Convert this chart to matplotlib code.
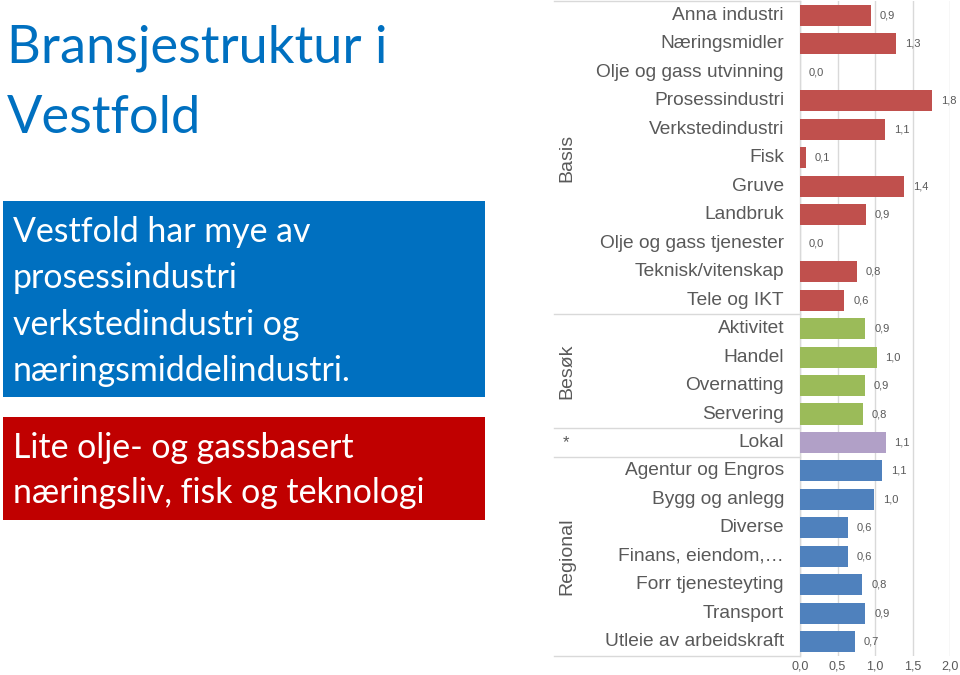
import matplotlib
matplotlib.use("Agg")
import matplotlib.pyplot as plt
from matplotlib.patches import Rectangle
from matplotlib.lines import Line2D
from matplotlib.transforms import blended_transform_factory

# ---------------- data ----------------
categories = ["Anna industri", "Næringsmidler", "Olje og gass utvinning", "Prosessindustri",
              "Verkstedindustri", "Fisk", "Gruve", "Landbruk", "Olje og gass tjenester",
              "Teknisk/vitenskap", "Tele og IKT",
              "Aktivitet", "Handel", "Overnatting", "Servering",
              "Lokal",
              "Agentur og Engros", "Bygg og anlegg", "Diverse", "Finans, eiendom,…",
              "Forr tjenesteyting", "Transport", "Utleie av arbeidskraft"]
values = [0.94, 1.28, 0.0, 1.76, 1.13, 0.08, 1.39, 0.88, 0.0, 0.76, 0.59,
          0.87, 1.02, 0.86, 0.84,
          1.14,
          1.09, 0.99, 0.64, 0.64, 0.83, 0.87, 0.73]
groups = ["Basis"] * 11 + ["Besøk"] * 4 + ["*"] + ["Regional"] * 7
group_names = ["Basis", "Besøk", "*", "Regional"]
group_colors = {"Basis": "#C0504D", "Besøk": "#9BBB59", "*": "#B1A0C7", "Regional": "#4F81BD"}
xticks = [0.0, 0.5, 1.0, 1.5, 2.0]
xtick_labels = ["0,0", "0,5", "1,0", "1,5", "2,0"]

title_lines = ["Bransjestruktur i", "Vestfold"]
blue_lines = ["Vestfold har mye av", "prosessindustri", "verkstedindustri og",
              "næringsmiddelindustri."]
red_lines = ["Lite olje- og gassbasert", "næringsliv, fisk og teknologi"]

# ---------------- figure ----------------
W, H = 960, 675
fig = plt.figure(figsize=(W / 100, H / 100), dpi=100)
fig.patch.set_facecolor("white")

def fy(py):
    return 1 - py / H

def fx(px):
    return px / W

GRAY = "#595959"
LIGHT = "#D9D9D9"
CFONT = "Liberation Sans"

# chart axes
ax_left, ax_right = 800, 950
ax_top, ax_bot = 1.25, 656
ax = fig.add_axes([fx(ax_left), fy(ax_bot), (ax_right - ax_left) / W, (ax_bot - ax_top) / H])
n = len(categories)
ypos = list(range(n))
colors = [group_colors[g] for g in groups]
ax.barh(ypos, values, height=0.74, color=colors, zorder=3)
ax.set_xlim(0, 2.0)
ax.set_ylim(n - 0.5, -0.5)
ax.set_yticks([])
ax.set_xticks(xticks)
ax.set_xticklabels(xtick_labels, fontsize=9, color=GRAY, family=CFONT)
ax.tick_params(axis="x", length=0, pad=3)
for s in ["top", "right", "bottom"]:
    ax.spines[s].set_visible(False)
ax.spines["left"].set_color(LIGHT)
ax.spines["left"].set_linewidth(1)
ax.grid(axis="x", color=LIGHT, linewidth=1, zorder=0)
ax.set_facecolor("none")

for y, v in zip(ypos, values):
    lbl = f"{v:.1f}".replace(".", ",")
    ax.annotate(lbl, (v, y), xytext=(6.5, 0), textcoords="offset points",
                va="center", ha="left", fontsize=8, color=GRAY, family=CFONT)

tr = blended_transform_factory(fig.transFigure, ax.transData)
for y, c in zip(ypos, categories):
    ax.text(fx(784), y, c, transform=tr, ha="right", va="center",
            fontsize=13.8, color=GRAY, family=CFONT)

# group separators and group labels
bounds = []
start = 0
for g in group_names:
    cnt = groups.count(g)
    bounds.append((g, start, start + cnt))
    start += cnt

sep_ys = [-0.5] + [b[2] - 0.5 for b in bounds]
for sy in sep_ys:
    ax.add_line(Line2D([fx(554), fx(800)], [sy, sy], transform=tr, color=LIGHT,
                       linewidth=1, clip_on=False))

for g, s0, s1 in bounds:
    mid = (s0 + s1 - 1) / 2
    if g == "*":
        ax.text(fx(566), mid, g, transform=tr, ha="center", va="center",
                fontsize=12, color=GRAY, family=CFONT)
    else:
        ax.text(fx(567), mid, g, transform=tr, ha="center", va="center", rotation=90,
                fontsize=14, color=GRAY, family=CFONT)

# ---------------- left panel ----------------
LFONT = "Lato"
renderer = fig.canvas.get_renderer()

def fit_size(text, target_px, family, start=20):
    t = fig.text(0, 0, text, fontsize=start, family=family)
    w = t.get_window_extent(renderer=renderer).width
    t.remove()
    return start * target_px / w

title_size = fit_size(title_lines[0], 380, LFONT, 40)
for line, base in zip(title_lines, [62, 133]):
    fig.text(fx(7), fy(base), line, fontsize=title_size, color="#0070C0",
             family=LFONT, va="baseline", ha="left")

# blue box
fig.patches.append(Rectangle((fx(3), fy(397)), fx(482), (397 - 201) / H,
                             transform=fig.transFigure, facecolor="#0070C0",
                             edgecolor="none", zorder=0))
box_size = fit_size(blue_lines[3], 340, LFONT, 20)
for line, base in zip(blue_lines, [242, 288, 335, 381]):
    fig.text(fx(13), fy(base), line, fontsize=box_size, color="white",
             family=LFONT, va="baseline", ha="left")

# red box
fig.patches.append(Rectangle((fx(3), fy(520)), fx(482), (520 - 417) / H,
                             transform=fig.transFigure, facecolor="#C00000",
                             edgecolor="none", zorder=0))
for line, base in zip(red_lines, [458, 503]):
    fig.text(fx(13), fy(base), line, fontsize=box_size, color="white",
             family=LFONT, va="baseline", ha="left")

fig.savefig("out.png", dpi=100, facecolor="white")
